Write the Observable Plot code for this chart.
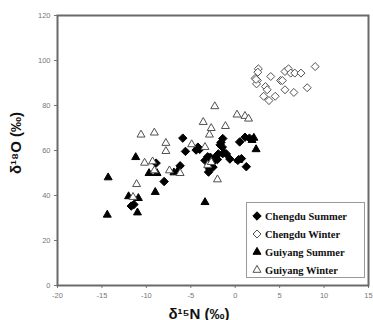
<!DOCTYPE html>
<html>
<head>
<meta charset="utf-8">
<script src="https://cdn.jsdelivr.net/npm/d3@7"></script>
<script src="https://cdn.jsdelivr.net/npm/@observablehq/plot@0.6"></script>
<style>
  html, body { margin: 0; padding: 0; background: white; }
  #wrap { position: relative; width: 373px; height: 320px; overflow: hidden; }
  .ytitle { position: absolute; left: 15px; top: 143px; transform: translate(-50%, -50%) rotate(-90deg);
    font: bold 15px "Liberation Sans", Arial, sans-serif; white-space: nowrap; color: #111; }
  .xtitle { position: absolute; left: 199px; top: 313px; transform: translate(-50%, -50%);
    font: bold 15px "Liberation Sans", Arial, sans-serif; white-space: nowrap; color: #111; }
  .legend { position: absolute; left: 246px; top: 202px; width: 119px; height: 76px; box-sizing: border-box;
    border: 1px solid #999; background: white; font: bold 10.5px "Liberation Serif", "Times New Roman", serif; color: #111; }
  .legend .row { position: absolute; left: 5px; height: 14px; display: flex; align-items: center; white-space: nowrap; }
  .legend svg { margin-right: 3px; }
</style>
</head>
<body>
<div id="wrap"></div>
<script>
// x = δ15N (‰), y = δ18O (‰)
const seriesNames = ["Chengdu Summer", "Chengdu Winter", "Guiyang Summer", "Guiyang Winter"];

const chengduSummer = [
  [-5.9,65.5],[-5.6,59.6],[-6.2,53.2],[-8.9,54.4],[-8.0,46.2],[-11.7,35.3],[-11.4,36.0],
  [-4.2,61.5],[-4.4,60.2],[-4.0,60.5],[-1.4,65.3],[-1.6,63.6],[-1.45,61.5],[-2.8,57],
  [-2.25,57],[-1.9,58.5],[-1.4,58.6],[-1.0,58.5],[-0.6,56.2],[-2.7,54.2],[-2.9,51.9],
  [-3.0,50.4],[-2.5,52.6],[-2.3,55.6],[-3.4,55.6],[-2.0,56.0],[0.5,63.8],[1.1,65.9],
  [1.6,65.5],[0.3,55.6],[0.7,56.4],[1.25,52.8],[-3.1,57.2],[-1.7,62.5]
];
const chengduWinter = [
  [2.6,96.3],[2.55,94.8],[2.25,92.1],[2.5,91.1],[2.4,89.6],[2.35,91.6],[4.0,92.9],
  [5.1,91.1],[5.3,91.1],[5.6,95.1],[6.0,96.3],[6.25,94.4],[6.7,94.4],[7.4,94.4],
  [9.0,97.3],[3.4,88.4],[3.6,87],[3.2,84.1],[4.5,84.1],[3.8,82.2],[5.6,87],[6.6,85.8],[8.1,87.9]
];
const guiyangSummer = [
  [-14.3,48],[-14.4,31.4],[-11.2,57],[-12.0,39.6],[-10.9,38.8],[-11.0,32.4],[-9.7,49.9],
  [-8.8,49.9],[-9.0,41.5],[-6.5,50.8],[-6.9,50.2],[-3.4,37],[2.1,65.6],[1.9,64.6],
  [2.35,60.5],[0.4,55.8],[-1.2,58.8]
];
const guiyangWinter = [
  [-10.6,67],[-9.1,67.9],[-7.8,63.3],[-7.8,59.7],[-10.2,54.5],[-9.3,55.1],[-9.1,51.1],
  [-11.1,45],[-11.5,39.3],[-7.4,51.1],[-6.2,49.9],[-4.9,62.7],[-3.4,61.5],[-3.6,72.6],
  [-2.3,79.6],[-2.7,69.9],[-2.9,67],[-1.1,70.8],[-2.0,47.1],[0.2,75.9],[1.1,75.3],
  [1.5,74.1],[-3.1,53.5],[-2.7,54.8]
];
const xTicks = [-20, -15, -10, -5, 0, 5, 10, 15];
const yTicks = [0, 20, 40, 60, 80, 100, 120];

const styles = [
  {symbol: "diamond2", fill: "#000", stroke: "#000", r: 3.8},
  {symbol: "diamond2", fill: "#fff", stroke: "#505050", r: 3.6},
  {symbol: "triangle2", fill: "#000", stroke: "#000", r: 3.8},
  {symbol: "triangle2", fill: "#fff", stroke: "#505050", r: 3.8}
];
const allData = [chengduSummer, chengduWinter, guiyangSummer, guiyangWinter];

const dotMarks = allData.map((d, i) => Plot.dot(d, {
  x: p => p[0], y: p => p[1],
  symbol: () => styles[i].symbol, r: styles[i].r,
  fill: styles[i].fill, stroke: styles[i].stroke, strokeWidth: 1
}));

const chart = Plot.plot({
  width: 373, height: 320,
  marginLeft: 57, marginRight: 5, marginTop: 15, marginBottom: 35,
  style: {fontFamily: "'Liberation Sans', Arial, sans-serif", fontSize: "7.5px", color: "#777", background: "white"},
  symbol: {type: "identity"},
  x: {domain: [-20, 15], ticks: xTicks, tickFormat: d => String(d), label: null, tickSize: 3, tickPadding: 4},
  y: {domain: [0, 120], ticks: yTicks, tickFormat: d => String(d), label: null, tickSize: 3, tickPadding: 4},
  marks: [
    Plot.frame({stroke: "#6a6a6a", strokeWidth: 2}),
    ...dotMarks
  ]
});

const wrap = document.getElementById("wrap");
wrap.appendChild(chart);

const yt = document.createElement("div");
yt.className = "ytitle"; yt.textContent = "δ¹⁸O (‰)";
wrap.appendChild(yt);
const xt = document.createElement("div");
xt.className = "xtitle"; xt.textContent = "δ¹⁵N (‰)";
wrap.appendChild(xt);

const leg = document.createElement("div");
leg.className = "legend";
seriesNames.forEach((name, i) => {
  const row = document.createElement("div");
  row.className = "row";
  row.style.top = (6 + i * 18) + "px";
  const s = styles[i];
  const sym = s.symbol === "diamond2" ? d3.symbolDiamond2 : d3.symbolTriangle2;
  const area = Math.PI * s.r * s.r;
  const path = d3.symbol(sym, area)();
  row.innerHTML = `<svg width="10" height="10" viewBox="-5 -5 10 10"><path d="${path}" fill="${s.fill}" stroke="${s.stroke}" stroke-width="1"/></svg><span>${name}</span>`;
  leg.appendChild(row);
});
wrap.appendChild(leg);
</script>
</body>
</html>
